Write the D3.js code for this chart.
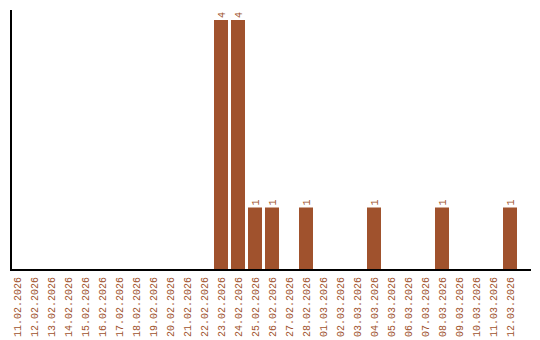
<!DOCTYPE html>
<html>
<head>
<meta charset="utf-8">
<script src="https://cdn.jsdelivr.net/npm/d3@7"></script>
<style>
  body { margin: 0; background: #fff; }
  text { font-family: "Liberation Mono", "Courier New", monospace; font-size: 10px; fill: #a0522d; }
</style>
</head>
<body>
<svg id="chart" width="540" height="340"></svg>
<script>
// Tage
const dates = [
  "11.02.2026", "12.02.2026", "13.02.2026", "14.02.2026", "15.02.2026",
  "16.02.2026", "17.02.2026", "18.02.2026", "19.02.2026", "20.02.2026",
  "21.02.2026", "22.02.2026", "23.02.2026", "24.02.2026", "25.02.2026",
  "26.02.2026", "27.02.2026", "28.02.2026", "01.03.2026", "02.03.2026",
  "03.03.2026", "04.03.2026", "05.03.2026", "06.03.2026", "07.03.2026",
  "08.03.2026", "09.03.2026", "10.03.2026", "11.03.2026", "12.03.2026"
];
const counts = [
  0, 0, 0, 0, 0, 0, 0, 0, 0, 0,
  0, 0, 4, 4, 1, 1, 0, 1, 0, 0,
  0, 1, 0, 0, 0, 1, 0, 0, 0, 1
];

const svg = d3.select('#chart');
const barColor = '#a0522d';

const x = d3.scaleBand()
    .domain(dates)
    .range([10, 517])
    .paddingInner(3 / 17)
    .paddingOuter(0);

const y = d3.scaleLinear()
    .domain([0, 4])
    .range([270, 20]);

const data = dates.map((d, i) => ({ date: d, value: counts[i] }));

// Balken
svg.selectAll('.bar')
    .data(data.filter(d => d.value > 0))
    .enter()
    .append('rect')
    .attr('class', 'bar')
    .attr('x', d => x(d.date))
    .attr('y', d => y(d.value))
    .attr('width', x.bandwidth())
    .attr('height', d => y(0) - y(d.value))
    .attr('fill', barColor);

// Werte über den Balken
svg.selectAll('.wert')
    .data(data.filter(d => d.value > 0))
    .enter()
    .append('text')
    .attr('class', 'wert')
    .attr('transform', d => `translate(${x(d.date) + x.bandwidth() / 2 + 3.5},${y(d.value) - 2}) rotate(-90)`)
    .text(d => d.value);

// Achsen
svg.append('line')
    .attr('x1', 11).attr('x2', 11)
    .attr('y1', 10).attr('y2', 271)
    .attr('stroke', '#000').attr('stroke-width', 2);

svg.append('line')
    .attr('x1', 10).attr('x2', 531)
    .attr('y1', 270).attr('y2', 270)
    .attr('stroke', '#000').attr('stroke-width', 2);

// Datumsbeschriftung
svg.selectAll('.tick-label')
    .data(dates)
    .enter()
    .append('text')
    .attr('class', 'tick-label')
    .attr('text-anchor', 'end')
    .attr('transform', d => `translate(${x(d) + x.bandwidth() / 2 + 3.5},277) rotate(-90)`)
    .text(d => d);
</script>
</body>
</html>
